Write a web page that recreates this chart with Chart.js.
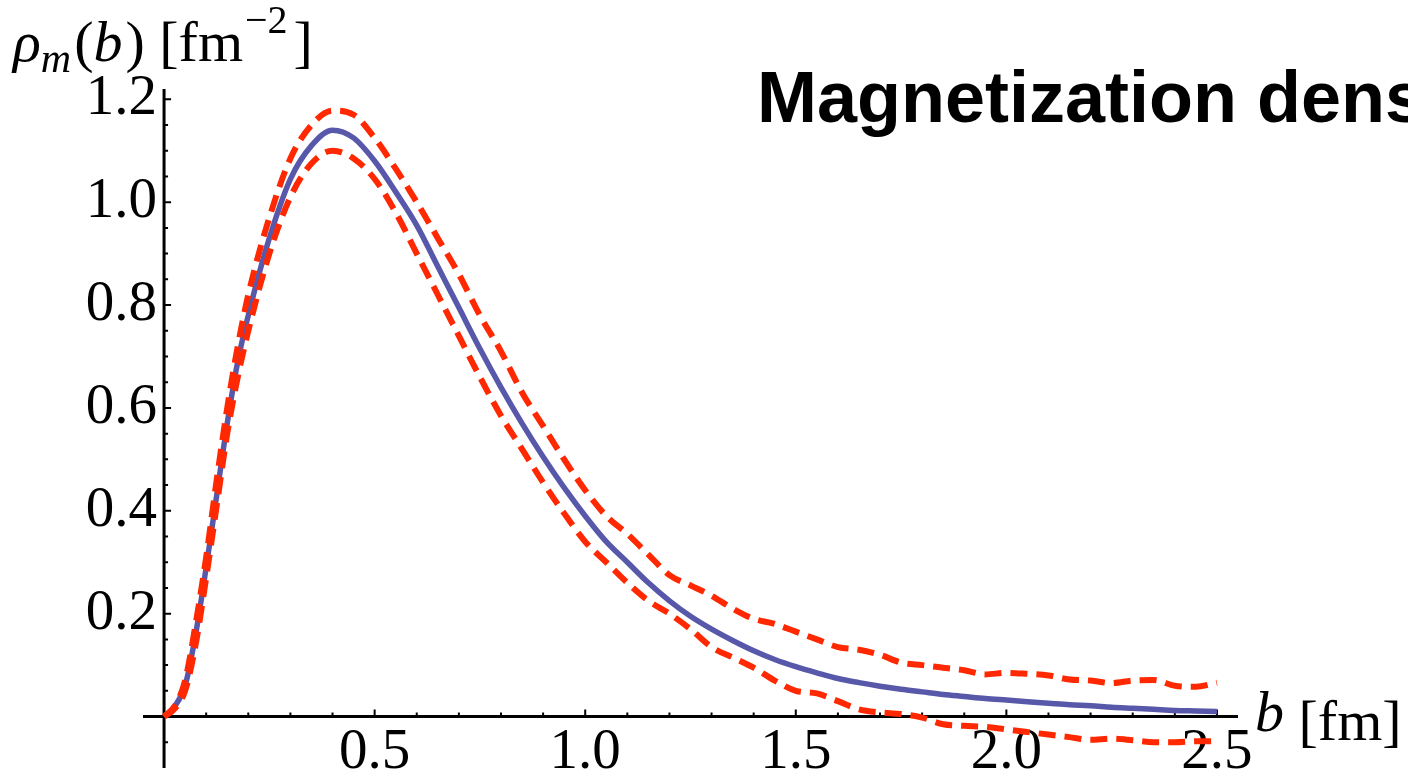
<!DOCTYPE html>
<html>
<head>
<meta charset="utf-8">
<title>Magnetization density</title>
<script src="https://cdn.jsdelivr.net/npm/chart.js@4.4.1/dist/chart.umd.min.js"></script>
<style>
  html, body { margin: 0; padding: 0; background: #fff; overflow: hidden; }
  canvas { display: block; }
</style>
</head>
<body>
<canvas id="rhoChart" width="1408" height="771"></canvas>
<script>
// impact parameter b [fm]
var bValues = [0, 0.025, 0.05, 0.075, 0.1, 0.125, 0.15, 0.175, 0.2,
  0.25, 0.3, 0.35, 0.4, 0.45, 0.5, 0.55, 0.6, 0.65, 0.7, 0.75, 0.8, 0.85, 0.9, 0.95,
  1.0, 1.05, 1.1, 1.15, 1.2, 1.25, 1.3, 1.35, 1.4, 1.45, 1.5, 1.55, 1.6, 1.65, 1.7, 1.75,
  1.8, 1.85, 1.9, 1.95, 2.0, 2.05, 2.1, 2.15, 2.2, 2.25, 2.3, 2.35, 2.4, 2.45, 2.5];

// central value (solid blue)
var rhoCentral = [0, 0.02, 0.06, 0.16, 0.29, 0.43, 0.57, 0.69, 0.78,
  0.93, 1.045, 1.11, 1.14, 1.125, 1.08, 1.02, 0.955, 0.875, 0.795, 0.715, 0.64, 0.57, 0.505, 0.445,
  0.39, 0.34, 0.30, 0.26, 0.225, 0.195, 0.17, 0.148, 0.128, 0.111, 0.097, 0.085, 0.074, 0.066, 0.059, 0.053,
  0.048, 0.043, 0.039, 0.035, 0.032, 0.029, 0.026, 0.023, 0.021, 0.018, 0.016, 0.014, 0.012, 0.011, 0.01];

// error band, upper edge (dashed red)
var rhoUpper = [0, 0.02, 0.07, 0.18, 0.31, 0.46, 0.60, 0.72, 0.82,
  0.97, 1.085, 1.15, 1.178, 1.17, 1.125, 1.065, 1.0, 0.93, 0.86, 0.78, 0.71, 0.63, 0.565, 0.50,
  0.44, 0.39, 0.355, 0.315, 0.275, 0.255, 0.235, 0.21, 0.19, 0.18, 0.165, 0.15, 0.135, 0.13, 0.12, 0.105,
  0.10, 0.095, 0.09, 0.082, 0.085, 0.083, 0.08, 0.072, 0.07, 0.065, 0.07, 0.071, 0.06, 0.058, 0.066];

// error band, lower edge (dashed red)
var rhoLower = [0, 0.015, 0.05, 0.14, 0.27, 0.41, 0.55, 0.66, 0.75,
  0.90, 1.01, 1.075, 1.10, 1.085, 1.045, 0.98, 0.90, 0.82, 0.74, 0.66, 0.585, 0.52, 0.455, 0.395,
  0.34, 0.30, 0.26, 0.225, 0.20, 0.17, 0.135, 0.115, 0.095, 0.07, 0.05, 0.045, 0.03, 0.014, 0.008, 0.005,
  -0.002, -0.015, -0.018, -0.02, -0.025, -0.03, -0.035, -0.04, -0.045, -0.043, -0.046, -0.05, -0.05, -0.048, -0.048];

// axis ticks
var xTickValues = [0.5, 1.0, 1.5, 2.0, 2.5];
var xTickLabels = ['0.5', '1.0', '1.5', '2.0', '2.5'];
var yTickValues = [0.2, 0.4, 0.6, 0.8, 1.0, 1.2];
var yTickLabels = ['0.2', '0.4', '0.6', '0.8', '1.0', '1.2'];

var serif = '"Liberation Serif", "Times New Roman", serif';

function toPoints(ys) {
  return bValues.map(function (b, i) { return { x: b, y: ys[i] }; });
}

// Mathematica style axes crossing at the origin, ticks pointing inward
var axesPlugin = {
  id: 'axes',
  beforeDatasetsDraw: function (chart) {
    var ctx = chart.ctx;
    var xs = chart.scales.x, ys = chart.scales.y;
    var x0 = xs.getPixelForValue(0), y0 = ys.getPixelForValue(0);
    ctx.save();
    ctx.strokeStyle = '#000';
    ctx.lineWidth = 3;
    ctx.beginPath();
    ctx.moveTo(xs.left, y0); ctx.lineTo(xs.right, y0);
    ctx.moveTo(x0, ys.top); ctx.lineTo(x0, ys.bottom);
    ctx.stroke();

    ctx.lineWidth = 2;
    ctx.beginPath();
    var i, v, p;
    for (i = 1; i <= 25; i++) {
      v = i / 10;
      p = xs.getPixelForValue(v);
      ctx.moveTo(p, y0);
      ctx.lineTo(p, y0 - (i % 5 === 0 ? 7 : 4));
    }
    for (i = -1; i <= 24; i++) {
      if (i === 0) continue;
      v = i * 0.05;
      p = ys.getPixelForValue(v);
      ctx.moveTo(x0, p);
      ctx.lineTo(x0 + (i % 4 === 0 ? 7 : 4), p);
    }
    ctx.stroke();

    // tick labels
    ctx.fillStyle = '#000';
    ctx.font = '57px ' + serif;
    ctx.textBaseline = 'alphabetic';
    ctx.textAlign = 'center';
    xTickValues.forEach(function (t, k) {
      ctx.fillText(xTickLabels[k], xs.getPixelForValue(t), y0 + 51);
    });
    ctx.textAlign = 'right';
    yTickValues.forEach(function (t, k) {
      ctx.fillText(yTickLabels[k], x0 - 7, ys.getPixelForValue(t) + 15);
    });
    ctx.restore();
  },
  afterDraw: function (chart) {
    var ctx = chart.ctx;
    ctx.save();
    ctx.fillStyle = '#000';
    ctx.textAlign = 'left';
    ctx.textBaseline = 'alphabetic';

    // y axis label: rho_m(b) [fm^-2]
    var x = 13;
    ctx.font = 'italic 58px ' + serif;
    ctx.fillText('\u03c1', x, 61); x += ctx.measureText('\u03c1').width;
    ctx.font = 'italic 42px ' + serif;
    ctx.fillText('m', x, 72); x += ctx.measureText('m').width + 3;
    ctx.font = '58px ' + serif;
    ctx.fillText('(', x, 61); x += ctx.measureText('(').width;
    ctx.font = 'italic 58px ' + serif;
    ctx.fillText('b', x, 61); x += ctx.measureText('b').width + 3;
    ctx.font = '58px ' + serif;
    ctx.fillText(') [fm', x, 61); x += ctx.measureText(') [fm').width + 2;
    ctx.font = '40px ' + serif;
    ctx.fillText('\u22122', x, 33); x += ctx.measureText('\u22122').width + 6;
    ctx.font = '58px ' + serif;
    ctx.fillText(']', x, 61);

    // x axis label: b [fm]
    x = 1255;
    ctx.font = 'italic 58px ' + serif;
    ctx.fillText('b', x, 731); x += ctx.measureText('b').width;
    ctx.font = '58px ' + serif;
    ctx.fillText(' [fm]', x, 740);

    // title, cut off by the right edge as in the original
    ctx.font = 'bold 72px "Liberation Sans", Arial, sans-serif';
    ctx.fillText('Magnetization density', 757, 122);
    ctx.restore();
  }
};

var ctx = document.getElementById('rhoChart');
var rhoChart = new Chart(ctx, {
  type: 'line',
  data: {
    datasets: [{
      label: 'upper',
      data: toPoints(rhoUpper),
      borderColor: 'rgb(255, 40, 0)',
      borderWidth: 6,
      borderDash: [17, 9],
      order: 1
    }, {
      label: 'lower',
      data: toPoints(rhoLower),
      borderColor: 'rgb(255, 40, 0)',
      borderWidth: 6,
      borderDash: [17, 9],
      order: 1
    }, {
      label: 'central',
      data: toPoints(rhoCentral),
      borderColor: 'rgb(88, 88, 170)',
      borderWidth: 5.5,
      order: 2
    }]
  },
  options: {
    responsive: false,
    animation: false,
    events: [],
    layout: { padding: { left: 143, right: 170, top: 89, bottom: 3 } },
    elements: {
      point: { radius: 0 },
      line: { cubicInterpolationMode: 'monotone', fill: false, borderCapStyle: 'butt' }
    },
    plugins: { legend: { display: false }, tooltip: { enabled: false } },
    scales: {
      x: { type: 'linear', display: false, min: -0.05, max: 2.55 },
      y: { type: 'linear', display: false, min: -0.1, max: 1.22 }
    }
  },
  plugins: [axesPlugin]
});
</script>
</body>
</html>
